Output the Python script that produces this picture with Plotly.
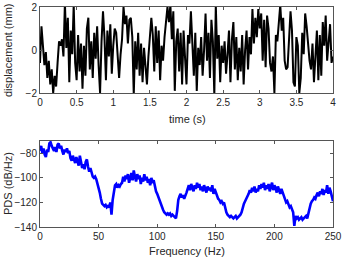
import numpy as np
import plotly.graph_objects as go

# ---- data ----
t_step = 0.02
displacement_mm = [
    -0.6, 1.1, 0.2, -0.7, -0.1, -1.3, -0.5, -1.6, -0.9, -2.0,
    -1.2, -1.7, -0.6, 0.4, 0.2, 0.5, -0.3, 2.2, 0.1, 1.5,
    -1.5, 0.9, -0.2, 2.1, -0.6, -1.4, 0.7, -1.0, 0.3, -1.8,
    0.2, -1.2, 1.0, 1.5, -0.9, 0.4, -1.3, 0.8, -0.4, 1.1,
    -0.7, -2.0, 0.4, 1.8, 0.6, -1.4, 0.9, -0.3, 1.2, -1.1,
    0.2, 1.0, 0.8, -0.6, -1.3, -0.2, 0.5, 2.0, 1.2, 1.6,
    0.3, 1.4, 1.5, 0.6, -2.1, 0.4, -0.9, 0.8, -1.2, 0.3,
    -1.5, 0.1, -0.8, -1.6, -0.3, 0.5, 1.5, 0.7, -1.0, 1.1,
    -0.6, 0.9, -1.4, 0.2, -0.5, 0.6, 1.2, 2.0, 1.3, 2.1,
    0.5, 1.8, -1.9, 0.4, 1.0, -1.0, 0.8, -1.6, 0.9, -0.4,
    -1.6, 0.7, 0.3, 1.8, 0.5, -1.2, 0.8, -1.9, 0.1, -0.7,
    0.6, -1.2, 0.0, 1.7, -0.5, 0.8, -1.3, 1.4, 0.4, -2.1,
    2.1, -0.4, 0.7, -1.5, 0.2, -0.6, 0.4, -1.1, -0.2, 0.9,
    -1.5, 0.5, 1.3, -0.9, 0.6, -1.4, 0.1, -1.0, 0.7, -1.6,
    0.0, 0.9, -0.9, 0.6, -0.2, 1.9, 0.3, 1.5, 0.6, 1.9,
    1.0, 1.7, -0.5, 1.4, -0.8, 1.6, 1.0, -0.6, -1.0, -0.3,
    -2.0, 0.7, 0.4, 1.3, 2.1, 0.9, 1.5, -0.5, -0.9, -0.8,
    0.5, 1.8, 0.9, -1.5, -1.7, 0.6, 0.2, -2.0, -1.3, 0.8,
    -0.2, 1.7, 1.1, 0.2, -0.5, -0.9, 0.3, -1.5, -0.4, 0.9,
    -1.4, 0.7, -1.2, 1.3, 0.2, 1.6, -0.5, 0.4, 1.2, -0.6,
    -0.3,
]
time_s = [round(i * t_step, 2) for i in range(len(displacement_mm))]

f_step = 1
psd_db = [
    -78, -74, -80, -76, -81, -83, -77, -79, -72, -71,
    -74, -76, -78, -75, -79, -73, -72, -76, -74, -78,
    -81, -77, -79, -76, -80, -78, -84, -86, -82, -85,
    -88, -83, -87, -90, -82, -86, -92, -89, -93, -87,
    -85, -91, -95, -92, -97, -99, -100, -99, -101, -104,
    -107, -112, -117, -121, -122, -123, -122, -124, -123, -124,
    -120, -130, -118, -110, -106, -105, -108, -106, -107, -105,
    -104, -99, -103, -98, -101, -97, -104, -100, -96, -102,
    -94, -99, -103, -97, -101, -98, -105, -100, -103, -97,
    -102, -99, -104, -101, -106, -100, -103, -102, -108, -111,
    -113, -116, -118, -121, -124, -126, -128, -129, -130, -129,
    -130, -129, -131, -130, -131, -132, -133, -127, -118, -115,
    -113, -116, -114, -117, -115, -112, -109, -106, -110, -105,
    -108, -111, -106, -109, -104, -108, -105, -110, -107, -111,
    -106, -109, -112, -107, -110, -108, -111, -106, -113, -109,
    -112, -115, -117, -118, -120, -119, -121, -120, -125, -128,
    -130, -131, -132, -131, -132, -133, -132, -131, -133, -132,
    -131, -130, -128, -124, -121, -119, -117, -116, -113, -110,
    -112, -108, -111, -107, -112, -109, -111, -106, -109, -105,
    -108, -104, -110, -106, -109, -105, -111, -107, -104, -110,
    -106, -108, -112, -107, -110, -113, -109, -112, -116, -118,
    -120, -119, -122, -124, -123, -126, -128, -139, -131, -133,
    -132, -134, -133, -132, -134, -133, -132, -131, -133, -128,
    -123, -121, -119, -118, -116, -117, -114, -112, -115, -111,
    -113, -109, -114, -110, -112, -106, -113, -108, -111, -115,
    -119,
]
freq_hz = [i * f_step for i in range(len(psd_db))]

top_xticks = [0, 0.5, 1, 1.5, 2, 2.5, 3, 3.5, 4]
top_yticks = [-2, 0, 2]
bot_xticks = [0, 50, 100, 150, 200, 250]
bot_yticks = [-140, -120, -100, -80]

# ---- figure ----
W, H = 342, 261
ml, mr, mt, mb = 40, 9, 7, 34
ph = H - mt - mb
pw = W - ml - mr

fig = go.Figure()
fig.add_trace(go.Scatter(x=time_s, y=displacement_mm, mode="lines",
                         line=dict(color="black", width=2), xaxis="x", yaxis="y",
                         showlegend=False, hoverinfo="skip"))
fig.add_trace(go.Scatter(x=freq_hz, y=psd_db, mode="lines",
                         line=dict(color="#0000ff", width=2.6), xaxis="x2", yaxis="y2",
                         showlegend=False, hoverinfo="skip"))

font = dict(family="Liberation Sans, Arial, sans-serif", size=10, color="#262626")
axis_common = dict(showline=True, linecolor="#555555", linewidth=1, mirror="ticks",
                   ticks="inside", ticklen=3, tickcolor="#555555", showgrid=False,
                   zeroline=False, tickfont=font, automargin=False)

top_dom = [(H - mb - 93) / ph, 1.0]
bot_dom = [0.0, (H - mb - 141) / ph]

fig.update_layout(
    width=W, height=H, autosize=False,
    margin=dict(l=ml, r=mr, t=mt, b=mb, pad=0),
    paper_bgcolor="white", plot_bgcolor="white",
    font=font,
    xaxis=dict(domain=[0, 1], range=[0, 4], tickvals=top_xticks,
               ticktext=[f"{v:g}" for v in top_xticks], anchor="y", **axis_common),
    yaxis=dict(domain=top_dom, range=[-2, 2], tickvals=top_yticks, anchor="x", **axis_common),
    xaxis2=dict(domain=[0, 1], range=[0, 250], tickvals=bot_xticks, anchor="y2", **axis_common),
    yaxis2=dict(domain=bot_dom, range=[-140, -70], tickvals=bot_yticks, anchor="x2", **axis_common),
)

title_font = dict(family="Liberation Sans, Arial, sans-serif", size=11, color="#262626")

def px_to_paper_y(py):
    return (H - mb - py) / ph

def px_to_paper_x(px):
    return (px - ml) / pw

fig.add_annotation(text="displacement (mm)", textangle=-90, x=px_to_paper_x(8), y=px_to_paper_y(50),
                   xref="paper", yref="paper", showarrow=False, font=title_font,
                   xanchor="center", yanchor="middle")
fig.add_annotation(text="time (s)", x=px_to_paper_x(187), y=px_to_paper_y(119),
                   xref="paper", yref="paper", showarrow=False, font=title_font,
                   xanchor="center", yanchor="middle")
fig.add_annotation(text="PDS (dB/Hz)", textangle=-90, x=px_to_paper_x(8), y=px_to_paper_y(184),
                   xref="paper", yref="paper", showarrow=False, font=title_font,
                   xanchor="center", yanchor="middle")
fig.add_annotation(text="Frequency (Hz)", x=px_to_paper_x(187), y=px_to_paper_y(251),
                   xref="paper", yref="paper", showarrow=False, font=title_font,
                   xanchor="center", yanchor="middle")

fig.write_html("out.html", config={"displayModeBar": False},
               post_script="document.body.style.margin='0px';document.body.style.padding='0px';")
